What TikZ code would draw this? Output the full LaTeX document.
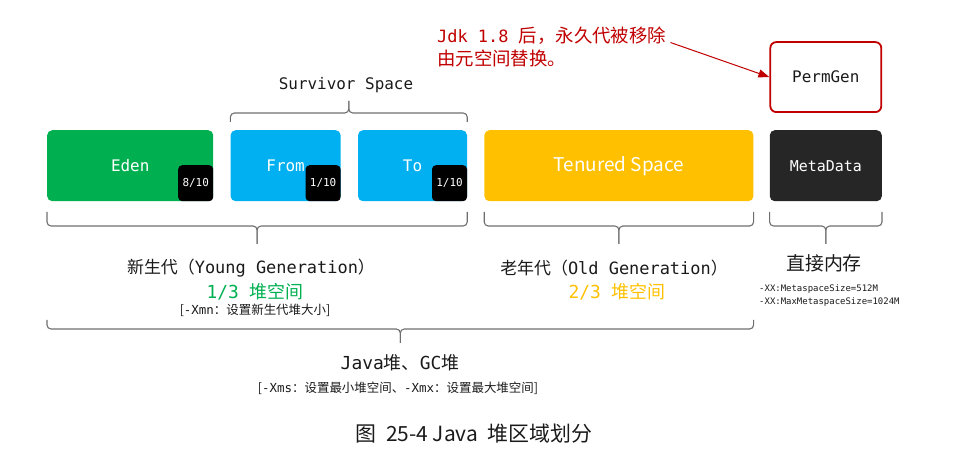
\documentclass[tikz,border=0pt]{standalone}
\usepackage{fontspec}
\setmainfont{Noto Sans CJK SC}
\newfontfamily\mono{DejaVu Sans Mono}
\usetikzlibrary{positioning,calc,arrows.meta}
\definecolor{edengreen}{HTML}{00B050}
\definecolor{survblue}{HTML}{00B0F0}
\definecolor{oldgold}{HTML}{FFC000}
\definecolor{metadark}{HTML}{262626}
\definecolor{permred}{HTML}{C00000}
\definecolor{bracegray}{HTML}{6E6E6E}
\definecolor{textdark}{HTML}{1A1A1A}

\begin{document}
\begin{tikzpicture}[x=1bp,y=-1bp,
  area/.style={rounded corners=5bp,minimum height=71bp,inner sep=0pt,text=white},
  ratio/.style={fill=black,rounded corners=4bp,minimum width=35bp,minimum height=36bp,inner sep=0pt,
    text=white,font=\mono\fontsize{11}{13}\selectfont,anchor=south east},
  bracket/.style={draw=bracegray,line width=1.1bp,rounded corners=4bp},
  node distance=17bp]
  \useasboundingbox (0,0) rectangle (954,463);
  % memory areas
  \node[area,fill=edengreen,minimum width=166bp,anchor=north west,font=\mono\fontsize{16}{19}\selectfont] (eden) at (47,130) {Eden};
  \node[area,fill=survblue,minimum width=110bp,right=of eden,font=\mono\fontsize{16}{19}\selectfont] (from) {From};
  \node[area,fill=survblue,minimum width=109bp,right=of from,font=\mono\fontsize{16}{19}\selectfont] (to) {To};
  \node[area,fill=oldgold,minimum width=269bp,right=of to,font=\fontsize{19}{22}\selectfont] (tenured) {Tenured Space};
  \node[area,fill=metadark,minimum width=112bp,right=16bp of tenured,font=\mono\fontsize{15}{18}\selectfont] (meta) {MetaData};
  \node[draw=permred,line width=1.8bp,rounded corners=6bp,minimum width=111bp,minimum height=70bp,
    above=17bp of meta,font=\mono\fontsize{16}{19}\selectfont,text=textdark] (permgen) {PermGen};
  \node[ratio] (edenratio) at (eden.south east) {8/10};
  \node[ratio] (fromratio) at (from.south east) {1/10};
  \node[ratio] (toratio) at (to.south east) {1/10};
  % survivor bracket
  \node[font=\mono\fontsize{16}{19}\selectfont,text=textdark] (survivor) at (346,85) {Survivor Space};
  \coordinate (mid-surv) at ($(from.north west)!.5!(to.north east)$);
  \draw[bracket] (from.north west |- 0,122) -- (from.north west |- 0,113) -- (mid-surv |- 0,113) -- (mid-surv |- 0,101);
  \draw[bracket] (to.north east |- 0,122) -- (to.north east |- 0,113) -- (mid-surv |- 0,113) -- (mid-surv |- 0,101);
  % generation brackets
  \foreach \a/\b/\n in {eden/to/young,tenured/tenured/old,meta/meta/direct} {
    \coordinate (mid-\n) at ($(\a.south west)!.5!(\b.south east)$);
    \draw[bracket] (\a.south west |- 0,212) -- (\a.south west |- 0,226) -- (mid-\n |- 0,226) -- (mid-\n |- 0,244);
    \draw[bracket] (\b.south east |- 0,212) -- (\b.south east |- 0,226) -- (mid-\n |- 0,226) -- (mid-\n |- 0,244);
  }
  \coordinate (mid-heap) at ($(eden.south west)!.5!(tenured.south east)$);
  \draw[bracket] (eden.south west |- 0,320) -- (eden.south west |- 0,329) -- (mid-heap |- 0,329) -- (mid-heap |- 0,343);
  \draw[bracket] (tenured.south east |- 0,320) -- (tenured.south east |- 0,329) -- (mid-heap |- 0,329) -- (mid-heap |- 0,343);
  % labels
  \node[font=\fontsize{17}{20}\selectfont,text=textdark] (younglabel) at (251,268) {新生代（{\mono Young Generation}）};
  \node[font=\fontsize{18}{21}\selectfont,text=edengreen] (youngshare) at (255,292) {{\mono 1/3 }堆空间};
  \node[font=\fontsize{12.5}{15}\selectfont,text=textdark] (youngopt) at (255,310) {[{\mono -Xmn}：设置新生代堆大小]};
  \node[font=\fontsize{17}{20}\selectfont,text=textdark] (oldlabel) at (614,268) {老年代（{\mono Old Generation}）};
  \node[font=\fontsize{18}{21}\selectfont,text=oldgold] (oldshare) at (617,292) {{\mono 2/3 }堆空间};
  \node[font=\fontsize{19}{22}\selectfont,text=textdark] (directlabel) at (824,263) {直接内存};
  \node[font=\mono\fontsize{9}{13}\selectfont,text=textdark,align=left,anchor=west,inner sep=0pt] (metaopt) at (759,295.5)
    {-XX:MetaspaceSize=512M\\-XX:MaxMetaspaceSize=1024M};
  \node[font=\fontsize{18}{21}\selectfont,text=textdark] (heaplabel) at (400,363) {{\mono Java}堆、{\mono GC}堆};
  \node[font=\fontsize{12.5}{15}\selectfont,text=textdark] (heapopt) at (398,388) {[{\mono -Xms}：设置最小堆空间、{\mono -Xmx}：设置最大堆空间]};
  % note on PermGen
  \node[font=\fontsize{18.5}{23}\selectfont,text=permred,align=left,anchor=west,inner sep=0pt] (note) at (437,46.5)
    {{\mono\fontsize{17}{23}\selectfont Jdk 1.8 }后，永久代被移除\\由元空间替换。};
  \draw[permred,line width=1bp,-{Triangle[length=11bp,width=8bp]}] ([shift={(4,-4)}]note.east) -- (permgen.west);
  % caption
  \node[font=\fontsize{21}{24}\selectfont,text=textdark] (caption) at (474,434) {图\ \ 25-4 Java\ \ 堆区域划分};
\end{tikzpicture}
\end{document}
